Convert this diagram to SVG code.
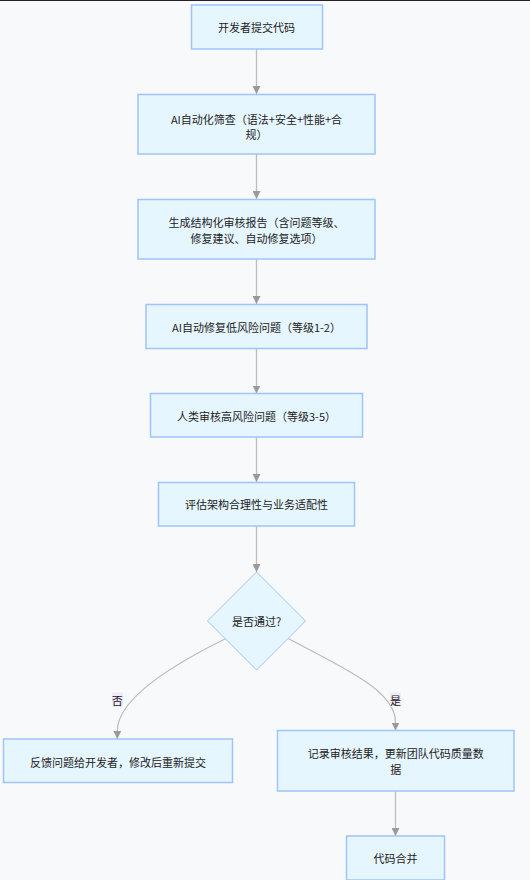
<svg xmlns="http://www.w3.org/2000/svg" width="530" height="880" viewBox="0 0 530 880">
<style>
  .bg{fill:#f8f9fb}
  .node rect,.node polygon{fill:#e6f6ff;stroke:#9ec4fa;stroke-width:1.5}
  .node polygon{stroke-width:1}
  .node text{font-family:"Noto Sans CJK SC","Liberation Sans",sans-serif;font-size:11px;fill:#222;text-anchor:middle;dominant-baseline:central}
  .edges path{fill:none;stroke:#bdbdbd;stroke-width:1.3}
  .lbl rect{fill:#f1eafc}
  .lbl text{font-family:"Noto Sans CJK SC","Liberation Sans",sans-serif;font-size:11px;fill:#222;text-anchor:middle;dominant-baseline:central}
</style>
<defs>
  <marker id="arr" viewBox="0 0 10 10" refX="10" refY="5" markerWidth="8" markerHeight="8" markerUnits="userSpaceOnUse" orient="auto">
    <path d="M0,0 L10,5 L0,10 Z" fill="#9a9a9a"/>
  </marker>
</defs>
<rect class="bg" x="0" y="0" width="530" height="880"/>
<rect x="0" y="0" width="530" height="1" fill="#222"/>

<g id="edges" class="edges">
  <path d="M256.5,49 L256.5,94" marker-end="url(#arr)"/>
  <path d="M256.5,154 L256.5,199" marker-end="url(#arr)"/>
  <path d="M256.5,259 L256.5,304" marker-end="url(#arr)"/>
  <path d="M256.5,348.5 L256.5,393.5" marker-end="url(#arr)"/>
  <path d="M256.5,437 L256.5,482" marker-end="url(#arr)"/>
  <path d="M256.5,526 L256.5,572" marker-end="url(#arr)"/>
  <path d="M226,638.5 C170,666 117.3,700 117.3,731 L117.3,739" marker-end="url(#arr)"/>
  <path d="M288.3,638.5 C341,667 395.5,690 395.5,722 L395.5,730.5" marker-end="url(#arr)"/>
  <path d="M395.5,791 L395.5,836" marker-end="url(#arr)"/>
</g>

<g id="labels">
  <g class="lbl" id="label-no">
    <rect x="112" y="692.5" width="11" height="14"/>
    <text x="117.3" y="699.5">否</text>
  </g>
  <g class="lbl" id="label-yes">
    <rect x="390" y="692.5" width="11" height="14"/>
    <text x="395.5" y="699.5">是</text>
  </g>
</g>

<g id="n1" class="node">
  <rect x="191.5" y="5" width="131" height="44"/>
  <text x="256.5" y="27">开发者提交代码</text>
</g>
<g id="n2" class="node">
  <rect x="138" y="94.5" width="237" height="59.5"/>
  <text x="256.5" y="118.5">AI自动化筛查（语法+安全+性能+合</text>
  <text x="256.5" y="133.5">规）</text>
</g>
<g id="n3" class="node">
  <rect x="138" y="199.5" width="237" height="59.5"/>
  <text x="256.5" y="221.5">生成结构化审核报告（含问题等级、</text>
  <text x="256.5" y="237.5">修复建议、自动修复选项）</text>
</g>
<g id="n4" class="node">
  <rect x="146" y="304.5" width="221" height="44"/>
  <text x="256.5" y="326.5">AI自动修复低风险问题（等级1-2）</text>
</g>
<g id="n5" class="node">
  <rect x="150.5" y="393.5" width="212" height="43.5"/>
  <text x="256.5" y="415.5">人类审核高风险问题（等级3-5）</text>
</g>
<g id="n6" class="node">
  <rect x="158.5" y="482.5" width="196" height="43.5"/>
  <text x="256.5" y="504">评估架构合理性与业务适配性</text>
</g>
<g id="n7" class="node">
  <polygon points="256.5,572 305.5,621 256.5,670 207.5,621"/>
  <text x="256.5" y="621">是否通过?</text>
</g>
<g id="n8" class="node">
  <rect x="3.5" y="739" width="229" height="43.5"/>
  <text x="118" y="761.5">反馈问题给开发者，修改后重新提交</text>
</g>
<g id="n9" class="node">
  <rect x="277.5" y="730.5" width="236.5" height="60.5"/>
  <text x="395.7" y="753">记录审核结果，更新团队代码质量数</text>
  <text x="395.7" y="769">据</text>
</g>
<g id="n10" class="node">
  <rect x="346.5" y="836" width="98" height="44"/>
  <text x="395.5" y="858">代码合并</text>
</g>
</svg>
